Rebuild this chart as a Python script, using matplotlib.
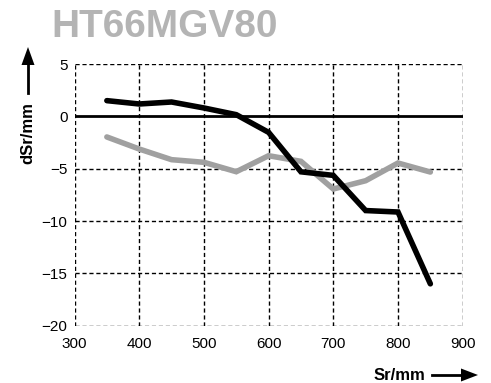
import matplotlib
matplotlib.use("Agg")
import matplotlib.pyplot as plt
from matplotlib.lines import Line2D
from matplotlib.patches import Polygon

plt.rcParams['font.family'] = ['Liberation Sans', 'DejaVu Sans']

sr = [350, 400, 450, 500, 550, 600, 650, 700, 750, 800, 850]
black_series = [1.5, 1.18, 1.37, 0.8, 0.16, -1.53, -5.3, -5.64, -9.0, -9.14, -16.0]
gray_series = [-1.97, -3.12, -4.14, -4.39, -5.29, -3.76, -4.3, -6.94, -6.15, -4.46, -5.32]
xticks = [300, 400, 500, 600, 700, 800, 900]
yticks = [5, 0, -5, -10, -15, -20]
title = "HT66MGV80"

W, H = 491, 383
fig = plt.figure(figsize=(W / 100, H / 100), dpi=100)
ax = fig.add_axes([74.5 / W, 1 - 325.7 / H, (462.7 - 74.5) / W, (325.7 - 64) / H])
ax.set_xlim(300, 900)
ax.set_ylim(-20, 5)
for s in ax.spines.values():
    s.set_visible(False)
for x in xticks:
    ax.axvline(x, color='black', lw=1, ls=(0, (3, 2)), zorder=1)
for y in yticks:
    if y == 0:
        continue
    ax.axhline(y, color='black', lw=1, ls=(0, (3, 2)), zorder=1)
ax.axhline(0, color='black', lw=2, zorder=2)
ax.plot(sr, gray_series, color='#a0a0a0', lw=4, zorder=3, solid_capstyle='round', solid_joinstyle='miter')
ax.plot(sr, black_series, color='black', lw=4, zorder=4, solid_capstyle='round', solid_joinstyle='miter')
ax.set_xticks(xticks)
ax.set_yticks(yticks)
ax.tick_params(length=0, labelsize=11, pad=5)
ax.tick_params(axis='x', pad=8)

def fx(px):
    return px / W

def fy(py):
    return 1 - py / H

fig.text(fx(51), fy(27), title, fontsize=28, fontweight='bold', color='#b4b4b4', ha='left', va='center')

# y label with arrow
fig.text(fx(28), fy(133), "dSr/mm", rotation=90, fontsize=12, fontweight='bold', ha='center', va='center')
fig.add_artist(Line2D([fx(28), fx(28)], [fy(93), fy(62)], color='black', lw=2, transform=fig.transFigure))
fig.add_artist(Polygon([[fx(28), fy(47)], [fx(21.5), fy(65)], [fx(34.5), fy(65)]], closed=True,
                       color='black', lw=0, transform=fig.transFigure))

# x label with arrow
fig.text(fx(425), fy(375), "Sr/mm", fontsize=12, fontweight='bold', ha='right', va='center')
fig.add_artist(Line2D([fx(432), fx(463)], [fy(375), fy(375)], color='black', lw=2, transform=fig.transFigure))
fig.add_artist(Polygon([[fx(478), fy(375)], [fx(461), fy(368.5)], [fx(461), fy(381.5)]], closed=True,
                       color='black', lw=0, transform=fig.transFigure))

fig.savefig("out.png", dpi=100)
